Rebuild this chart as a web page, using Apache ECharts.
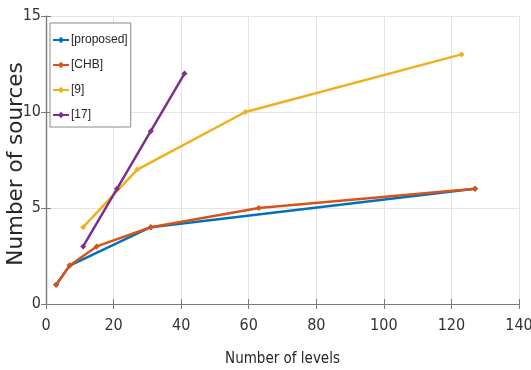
<!DOCTYPE html>
<html><head><meta charset="utf-8">
<script src="https://cdn.jsdelivr.net/npm/echarts@6/dist/echarts.min.js"></script>
<style>html,body{margin:0;padding:0;background:#fff}#c{width:531px;height:370px}</style>
</head><body><div id="c"></div>
<script>
const seriesNames = ['[proposed]', '[CHB]', '[9]', '[17]'];
const proposedX = [3, 7, 31, 127];
const proposedY = [1, 2, 4, 6];
const chbX = [3, 7, 15, 31, 63, 127];
const chbY = [1, 2, 3, 4, 5, 6];
const ref9X = [11, 27, 59, 123];
const ref9Y = [4, 7, 10, 13];
const ref17X = [11, 21, 31, 41];
const ref17Y = [3, 6, 9, 12];
const xTicks = [0, 20, 40, 60, 80, 100, 120, 140];
const yTicks = [0, 5, 10, 15];
const colors = ['#0072BD', '#D95319', '#EDB120', '#7E2F8E'];
const narrow = '"DejaVu Sans Condensed","Liberation Sans",sans-serif';

const zip = (xs, ys) => xs.map((x, i) => [x, ys[i]]);
const data = [zip(proposedX, proposedY), zip(chbX, chbY), zip(ref9X, ref9Y), zip(ref17X, ref17Y)];

const chart = echarts.init(document.getElementById('c'), null, {renderer: 'canvas'});
const axisLineStyle = {color: '#7a7a7a', width: 1.2};
chart.setOption({
  animation: false,
  color: colors,
  grid: {left: 46, right: 12, top: 16, bottom: 66, containLabel: false, outerBoundsMode: 'none'},
  legend: {
    orient: 'vertical', left: 50, top: 23,
    data: seriesNames,
    itemWidth: 16, itemHeight: 8, itemGap: 9,
    padding: [9, 3, 4, 2],
    borderColor: '#8a8a8a', borderWidth: 1, backgroundColor: '#fff',
    textStyle: {fontFamily: '"Liberation Sans",Arial,sans-serif', fontSize: 12, lineHeight: 16, color: '#262626', padding: [0,0,0,-3]}
  },
  xAxis: [{
    type: 'value', min: xTicks[0], max: xTicks[xTicks.length - 1], interval: 20,
    name: 'Number of levels', nameLocation: 'middle', nameGap: 48, nameMoveOverlap: false,
    nameTextStyle: {fontFamily: narrow, fontSize: 15, color: '#262626'},
    axisLine: {show: true, lineStyle: axisLineStyle},
    axisTick: {show: true, inside: true, length: 5, lineStyle: {color: '#7a7a7a'}},
    axisLabel: {fontFamily: narrow, fontSize: 16, color: '#333', margin: 14},
    splitLine: {show: true, lineStyle: {color: '#e4e4e4', width: 1}}
  }, {
    type: 'value', position: 'top', min: 0, max: 140, interval: 20,
    axisLine: {show: true, lineStyle: axisLineStyle},
    axisTick: {show: true, inside: true, length: 5, lineStyle: {color: '#7a7a7a'}},
    axisLabel: {show: false}, splitLine: {show: false}
  }],
  yAxis: [{
    type: 'value', min: yTicks[0], max: yTicks[yTicks.length - 1], interval: 5,
    name: 'Number of sources', nameLocation: 'middle', nameGap: 19, nameRotate: 90, nameMoveOverlap: false,
    nameTextStyle: {fontFamily: '"DejaVu Sans",sans-serif', fontSize: 21.5, color: '#262626', padding: [0, 8, 0, 0]},
    axisLine: {show: true, lineStyle: axisLineStyle},
    axisTick: {show: true, inside: true, length: 5, lineStyle: {color: '#7a7a7a'}},
    axisLabel: {fontFamily: narrow, fontSize: 16, color: '#333', margin: 5},
    splitLine: {show: true, lineStyle: {color: '#e4e4e4', width: 1}}
  }, {
    type: 'value', position: 'right', min: 0, max: 15, interval: 5,
    axisLine: {show: true, lineStyle: axisLineStyle},
    axisTick: {show: true, inside: true, length: 5, lineStyle: {color: '#7a7a7a'}},
    axisLabel: {show: false}, splitLine: {show: false}
  }],
  series: seriesNames.map((n, i) => ({
    name: n, type: 'line', data: data[i],
    symbol: 'diamond', symbolSize: 6, showSymbol: true,
    lineStyle: {width: 2.5, color: colors[i]},
    itemStyle: {color: colors[i]},
    z: 2 + i
  }))
});
</script></body></html>
